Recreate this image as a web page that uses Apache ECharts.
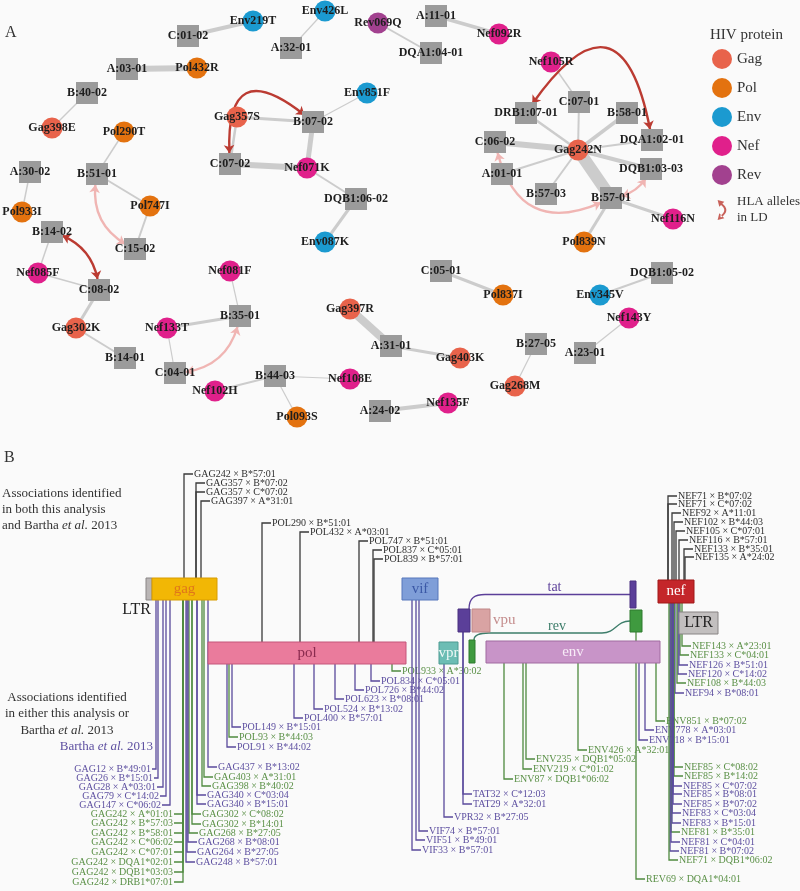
<!DOCTYPE html>
<html><head><meta charset="utf-8">
<script src="https://cdn.jsdelivr.net/npm/echarts@6/dist/echarts.min.js"></script>
<style>html,body{margin:0;padding:0;background:#fafafa}#c{width:800px;height:891px}</style>
</head><body><div id="c"></div><script>
const FONT = '"Liberation Serif", "DejaVu Serif", serif';

// ================= Panel A : association network =================
const proteins = ['Gag', 'Pol', 'Env', 'Nef', 'Rev'];
const proteinColors = ['#e8634b', '#e3720f', '#1b9ad0', '#e0208b', '#a2418f'];

const nodeNames = ['Env219T','C:01-02','Env426L','A:32-01','Rev069Q','DQA1:04-01','A:11-01','Nef092R',
  'A:03-01','Pol432R','B:40-02','Gag398E','Pol290T','B:51-01','A:30-02','Pol933I','Pol747I','C:15-02',
  'Gag357S','B:07-02','Env851F','C:07-02','Nef071K','DQB1:06-02','Env087K',
  'Nef105R','C:07-01','DRB1:07-01','B:58-01','DQA1:02-01','C:06-02','Gag242N','A:01-01','DQB1:03-03',
  'B:57-03','B:57-01','Nef116N','Pol839N',
  'B:14-02','Nef085F','C:08-02','Gag302K','B:14-01','Nef081F','B:35-01','Nef133T','C:04-01','Nef102H',
  'B:44-03','Nef108E','Pol093S','Gag397R','A:31-01','Gag403K','C:05-01','Pol837I','DQB1:05-02','Env345V',
  'Nef143Y','A:23-01','B:27-05','Gag268M','A:24-02','Nef135F'];
const nodeX = [253,188,325,291,378,431,436,499, 127,197,87,52,124,97,30,22,150,135,
  237,313,367,230,307,356,325, 551,579,526,627,652,495,578,502,651, 546,611,673,584,
  52,38,99,76,125,230,240,167,175,215, 275,350,297,350,391,460,441,503,662,600,
  629,585,536,515,380,448];
const nodeY = [21,36,11,48,23,53,16,34, 69,68,93,128,132,174,172,212,206,249,
  117,122,93,164,168,199,242, 62,102,113,113,140,142,150,174,169, 194,198,219,242,
  232,273,290,328,358,271,316,328,373,391, 376,379,417,309,346,358,271,295,273,295,
  318,353,344,386,411,403];

// source, target, association strength (edge width)
const edgeFrom = ['C:01-02','Env426L','Rev069Q','A:11-01','A:03-01','B:40-02','Pol290T','B:51-01','A:30-02','Pol747I',
  'Gag357S','Gag357S','B:07-02','C:07-02','B:07-02','Nef071K','DQB1:06-02','Nef105R',
  'Gag242N','Gag242N','Gag242N','Gag242N','Gag242N','Gag242N','Gag242N','Gag242N','Gag242N','B:57-01','B:57-01',
  'B:14-02','Nef085F','C:08-02','Gag302K','Nef081F','Nef133T','Nef133T','Nef102H','B:44-03','B:44-03',
  'Gag397R','A:31-01','C:05-01','DQB1:05-02','Nef143Y','B:27-05','A:24-02'];
const edgeTo = ['Env219T','A:32-01','DQA1:04-01','Nef092R','Pol432R','Gag398E','B:51-01','Pol747I','Pol933I','C:15-02',
  'B:07-02','C:07-02','Nef071K','Nef071K','Env851F','DQB1:06-02','Env087K','C:07-01',
  'DRB1:07-01','C:07-01','B:58-01','DQA1:02-01','C:06-02','A:01-01','B:57-03','DQB1:03-03','B:57-01','Nef116N','Pol839N',
  'Nef085F','C:08-02','Gag302K','B:14-01','B:35-01','B:35-01','C:04-01','B:44-03','Nef108E','Pol093S',
  'A:31-01','Gag403K','Pol837I','Env345V','A:23-01','Gag268M','Nef135F'];
const edgeWeight = [4,1.2,2,3.5,6,1.5,1.5,2,1.5,2,
  3,2.5,5,6,1.2,2,3,1.5,
  2.5,2,3.5,2,6,2,2,4,12,3,3,
  1.5,1.5,3,2,1.2,3,1.2,2,1.2,1.2,
  8,3,3,2,1.2,1.2,4];

// HLA alleles in linkage disequilibrium
const ldFrom = ['C:07-02','B:14-02','DRB1:07-01','B:51-01','B:35-01','C:06-02','DQB1:03-03'];
const ldTo = ['B:07-02','C:08-02','DQA1:02-01','C:15-02','C:04-01','B:57-01','B:57-01'];
const ldStrong = [true, true, true, false, false, false, false];
const ldBend = [1.2, 0.35, 1.25, -0.4, 0.4, -0.65, 0.3];

// ================= Panel B : genome map =================
const geneLabel = ['', 'gag', 'pol', 'vif', 'vpr', '', 'vpu', '', 'env', '', '', 'nef', 'LTR'];
const geneKey = ['LTR5', 'gag', 'pol', 'vif', 'vpr', 'tat1', 'vpu', 'rev1', 'env', 'tat2', 'rev2', 'nef', 'LTR3'];
const geneStart = [146, 152, 208, 402, 439, 458, 472, 469, 486, 630, 630, 658, 679];
const geneEnd = [152, 217, 406, 438, 458, 470, 490, 475, 660, 636, 642, 694, 718];
const geneTop = [578, 578, 642, 578, 642, 609, 609, 640, 641, 581, 610, 580, 612];
const geneBottom = [600, 600, 664, 600, 664, 632, 632, 663, 663, 608, 632, 603, 634];

// associations: [label, source ('both' | 'bartha' | 'this'), gene, genome position, label row]
const gagTop = [
  ['GAG242 × B*57:01','both','gag',184,474], ['GAG357 × B*07:02','both','gag',196,483],
  ['GAG357 × C*07:02','both','gag',196,492], ['GAG397 × A*31:01','both','gag',201,501]];
const polTop = [
  ['POL290 × B*51:01','both','pol',262,523], ['POL432 × A*03:01','both','pol',300,532],
  ['POL747 × B*51:01','both','pol',359,541], ['POL837 × C*05:01','both','pol',373,550],
  ['POL839 × B*57:01','both','pol',374,559]];
const nefTop = [
  ['NEF71 × B*07:02','both','nef',668,496], ['NEF71 × C*07:02','both','nef',668,504],
  ['NEF92 × A*11:01','both','nef',672,513], ['NEF102 × B*44:03','both','nef',674,522],
  ['NEF105 × C*07:01','both','nef',676,531], ['NEF116 × B*57:01','both','nef',679,540],
  ['NEF133 × B*35:01','both','nef',684,549], ['NEF135 × A*24:02','both','nef',685,557]];
const gagBottomLeft = [
  ['GAG12 × B*49:01','bartha','gag',156,769], ['GAG26 × B*15:01','bartha','gag',158,778],
  ['GAG28 × A*03:01','bartha','gag',163,787], ['GAG79 × C*14:02','bartha','gag',166,796],
  ['GAG147 × C*06:02','bartha','gag',170,805],
  ['GAG242 × A*01:01','this','gag',183,814], ['GAG242 × B*57:03','this','gag',183,823],
  ['GAG242 × B*58:01','this','gag',183,833], ['GAG242 × C*06:02','this','gag',183,842],
  ['GAG242 × C*07:01','this','gag',183,852], ['GAG242 × DQA1*02:01','this','gag',183,862],
  ['GAG242 × DQB1*03:03','this','gag',183,872], ['GAG242 × DRB1*07:01','this','gag',183,882]];
const gagLeftTick = [4,4,6,6,8,9,9,9,9,9,9,9,9];
const gagBottomRight = [
  ['GAG437 × B*13:02','bartha','gag',208,767], ['GAG403 × A*31:01','this','gag',204,777],
  ['GAG398 × B*40:02','this','gag',202,786], ['GAG340 × C*03:04','bartha','gag',197,795],
  ['GAG340 × B*15:01','bartha','gag',197,804], ['GAG302 × C*08:02','this','gag',192,814],
  ['GAG302 × B*14:01','this','gag',192,824], ['GAG268 × B*27:05','this','gag',189,833],
  ['GAG268 × B*08:01','bartha','gag',188,842], ['GAG264 × B*27:05','bartha','gag',187,852],
  ['GAG248 × B*57:01','bartha','gag',186,862]];
const polBottom = [
  ['POL91 × B*44:02','bartha','pol',227,747], ['POL93 × B*44:03','this','pol',229,737],
  ['POL149 × B*15:01','bartha','pol',232,727], ['POL400 × B*57:01','bartha','pol',294,718],
  ['POL524 × B*13:02','bartha','pol',314,709], ['POL623 × B*08:01','bartha','pol',335,699],
  ['POL726 × B*44:02','bartha','pol',355,690], ['POL834 × C*05:01','bartha','pol',371,681],
  ['POL933 × A*30:02','this','pol',392,671]];
const accessoryBottom = [
  ['VIF74 × B*57:01','bartha','vif',419,831], ['VIF51 × B*49:01','bartha','vif',416,840],
  ['VIF33 × B*57:01','bartha','vif',412,850], ['VPR32 × B*27:05','bartha','vpr',444,817],
  ['TAT32 × C*12:03','bartha','tat1',463,794], ['TAT29 × A*32:01','bartha','tat1',463,804],
  ['REV69 × DQA1*04:01','this','rev2',636,879]];
const envBottom = [
  ['ENV87 × DQB1*06:02','this','env',504,779], ['ENV219 × C*01:02','this','env',523,769],
  ['ENV235 × DQB1*05:02','this','env',526,759], ['ENV426 × A*32:01','this','env',578,750],
  ['ENV718 × B*15:01','bartha','env',639,740], ['ENV778 × A*03:01','bartha','env',645,730],
  ['ENV851 × B*07:02','this','env',656,721]];
const nefBottom = [
  ['NEF143 × A*23:01','this','nef',682,646], ['NEF133 × C*04:01','this','nef',680,655],
  ['NEF126 × B*51:01','bartha','nef',679,665], ['NEF120 × C*14:02','bartha','nef',678,674],
  ['NEF108 × B*44:03','this','nef',677,683], ['NEF94 × B*08:01','bartha','nef',675,693],
  ['NEF85 × C*08:02','this','nef',674,767], ['NEF85 × B*14:02','this','nef',674,776],
  ['NEF85 × C*07:02','bartha','nef',673,786], ['NEF85 × B*08:01','bartha','nef',673,794],
  ['NEF85 × B*07:02','bartha','nef',673,804], ['NEF83 × C*03:04','bartha','nef',672,813],
  ['NEF83 × B*15:01','bartha','nef',672,823], ['NEF81 × B*35:01','this','nef',671,832],
  ['NEF81 × C*04:01','bartha','nef',671,842], ['NEF81 × B*07:02','bartha','nef',670,851],
  ['NEF71 × DQB1*06:02','this','nef',669,860]];

// ================= styles =================
const geneStyle = {
  LTR5: {fill:'#b9b5b5', stroke:'#8a8686'},
  gag: {fill:'#f2b705', stroke:'#d89c00', text:'#e0761a'},
  pol: {fill:'#ea7b9c', stroke:'#c4577a', text:'#8a2a4e'},
  vif: {fill:'#7f9ed8', stroke:'#5677bb', text:'#3b58a6'},
  vpr: {fill:'#6cbdb4', stroke:'#4c9b92', text:'#eef8f6'},
  tat1: {fill:'#5b3f99', stroke:'#4a3080'},
  vpu: {fill:'#d9a3a3', stroke:'#c08888'},
  rev1: {fill:'#3f9a3f', stroke:'#2f7a2f'},
  env: {fill:'#c894c8', stroke:'#a06aa0', text:'#f7ebf7'},
  tat2: {fill:'#5b3f99', stroke:'#4a3080'},
  rev2: {fill:'#3f9a3f', stroke:'#2f7a2f'},
  nef: {fill:'#c4262a', stroke:'#a01818', text:'#ffffff'},
  LTR3: {fill:'#c2bfbf', stroke:'#888484', text:'#222222'}
};
const lineColor = {both:'#3a3a3a', bartha:'#5a4a9c', 'this':'#4f8a3f'};
const textColor = {both:'#2e2e2e', bartha:'#5d4fa0', 'this':'#5a9046'};

// ----- build network -----
const hlaColor = '#9b9b9b';
const nodes = nodeNames.map((n, i) => {
  const p = proteins.indexOf(n.slice(0, 3));
  return {
    name: n, value: [nodeX[i], nodeY[i]],
    category: p >= 0 ? p : 5,
    symbol: p >= 0 ? 'circle' : 'rect',
    symbolSize: p >= 0 ? 21 : 22
  };
});
const links = edgeFrom.map((s, i) => ({
  source: s, target: edgeTo[i],
  lineStyle: {width: edgeWeight[i], color: '#cccccc', opacity: 1, curveness: 0}
}));
ldFrom.forEach((s, i) => {
  links.push({
    source: s, target: ldTo[i], symbol: ['arrow', 'arrow'], symbolSize: [8, 8],
    lineStyle: {width: 2.4, color: ldStrong[i] ? '#bb3b32' : '#f0b5b3', opacity: 1, curveness: ldBend[i]}
  });
});

// ----- build genome association list -----
function collect(list, dir, side, ticks) {
  return list.map((a, i) => ({label: a[0], src: a[1], gene: geneKey.indexOf(a[2]), pos: a[3], row: a[4],
    dir: dir, side: side, tick: ticks ? ticks[i] : 9}));
}
const assoc = [].concat(
  collect(gagTop, 1, 'top'), collect(polTop, 1, 'top'), collect(nefTop, 1, 'top'),
  collect(gagBottomLeft, -1, 'bottom', gagLeftTick), collect(gagBottomRight, 1, 'bottom'),
  collect(polBottom, 1, 'bottom'), collect(accessoryBottom, 1, 'bottom'),
  collect(envBottom, 1, 'bottom'), collect(nefBottom, 1, 'bottom'));

function renderAssoc(params, api) {
  const a = assoc[params.dataIndex];
  const edgeY = a.side === 'top' ? geneTop[a.gene] : geneBottom[a.gene];
  const pA = api.coord([a.pos, edgeY]);
  const pB = api.coord([a.pos, a.row]);
  const pC = [pB[0] + a.dir * a.tick, pB[1]];
  return {type: 'group', children: [
    {type: 'polyline', shape: {points: [pA, pB, pC]}, style: {stroke: lineColor[a.src], lineWidth: 1.3, fill: null}},
    {type: 'text', x: pC[0] + a.dir * 1, y: pC[1], style: {text: a.label, fill: textColor[a.src],
      fontSize: 10, fontFamily: FONT, align: a.dir > 0 ? 'left' : 'right', verticalAlign: 'middle'}}
  ]};
}

function renderGene(params, api) {
  const i = params.dataIndex;
  const st = geneStyle[geneKey[i]];
  const p0 = api.coord([geneStart[i], geneTop[i]]);
  const p1 = api.coord([geneEnd[i], geneBottom[i]]);
  const ch = [{type: 'rect', shape: {x: p0[0], y: p0[1], width: p1[0] - p0[0], height: p1[1] - p0[1]},
    style: {fill: st.fill, stroke: st.stroke, lineWidth: 1}}];
  if (geneLabel[i] && geneKey[i] !== 'vpu') {
    ch.push({type: 'text', x: (p0[0] + p1[0]) / 2, y: (p0[1] + p1[1]) / 2,
      style: {text: geneLabel[i], fill: st.text, fontSize: geneKey[i] === 'LTR3' ? 16 : 15, fontFamily: FONT,
        align: 'center', verticalAlign: 'middle'}});
  }
  if (geneKey[i] === 'vpu') {
    ch.push({type: 'text', x: p1[0] + 3, y: (p0[1] + p1[1]) / 2,
      style: {text: 'vpu', fill: '#c48d8d', fontSize: 15, fontFamily: FONT, align: 'left', verticalAlign: 'middle'}});
  }
  if (geneKey[i] === 'LTR5') {
    ch.push({type: 'text', x: p1[0] - 1, y: p1[1] + 10,
      style: {text: 'LTR', fill: '#222', fontSize: 16, fontFamily: FONT, align: 'right', verticalAlign: 'middle'}});
  }
  return {type: 'group', children: ch};
}

// spliced exon connectors (tat, rev)
const spliceName = ['tat', 'rev'];
const spliceFromGene = ['tat1', 'rev1'];
const spliceToGene = ['tat2', 'rev2'];
const spliceColor = ['#5b3f99', '#3d7d6a'];
function renderSplice(params, api) {
  const k = params.dataIndex;
  const a = geneKey.indexOf(spliceFromGene[k]);
  const b = geneKey.indexOf(spliceToGene[k]);
  const s = api.coord([geneEnd[a] - 1, geneTop[a]]);
  const e = api.coord([geneStart[b], (geneTop[b] + geneBottom[b]) / 2]);
  let path;
  if (k === 0) {
    path = `M${s[0]} ${s[1]} C${s[0]} ${e[1] + 3} ${s[0] + 6} ${e[1]} ${s[0] + 16} ${e[1]} L${e[0]} ${e[1]}`;
  } else {
    const ly = e[1] + 12;
    path = `M${s[0]} ${s[1]} C${s[0]} ${ly + 2} ${s[0] + 5} ${ly} ${s[0] + 15} ${ly} L${e[0] - 28} ${ly} ` +
      `C${e[0] - 14} ${ly} ${e[0] - 14} ${e[1]} ${e[0]} ${e[1]}`;
  }
  const labelY = k === 0 ? e[1] - 7 : e[1] + 5;
  return {type: 'group', children: [
    {type: 'path', shape: {pathData: path}, style: {stroke: spliceColor[k], lineWidth: 1.3, fill: null}},
    {type: 'text', x: (s[0] + e[0]) / 2 + 5, y: labelY,
      style: {text: spliceName[k], fill: spliceColor[k], fontSize: 14, fontFamily: FONT, align: 'center', verticalAlign: 'middle'}}
  ]};
}

const ldIcon = 'path://M4 3 Q17 12 4 21 L3 19 Q13 12 3 5 Z M0 0 L8 2 L2 8 Z M0 24 L8 22 L2 16 Z';

const chart = echarts.init(document.getElementById('c'), null, {renderer: 'canvas'});
chart.setOption({
  backgroundColor: '#fafafa',
  animation: false,
  textStyle: {fontFamily: FONT},
  grid: {left: 0, right: 0, top: 0, bottom: 0},
  xAxis: {type: 'value', min: 0, max: 800, show: false},
  yAxis: {type: 'value', min: 0, max: 891, inverse: true, show: false},
  title: {text: 'HIV protein', left: 705, top: 23,
    textStyle: {fontSize: 15, fontWeight: 'normal', color: '#333', fontFamily: FONT}},
  legend: {
    orient: 'vertical', left: 707, top: 44, itemWidth: 20, itemHeight: 20, itemGap: 9,
    selectedMode: false, icon: 'circle',
    data: proteins.map(p => ({name: p})).concat([{name: 'HLA alleles in LD', icon: ldIcon,
      textStyle: {fontSize: 13, lineHeight: 16, color: '#333', fontFamily: FONT}}]),
    formatter: n => n === 'HLA alleles in LD' ? 'HLA alleles\nin LD' : n,
    textStyle: {fontSize: 15, color: '#333', fontFamily: FONT, lineHeight: 17}
  },
  graphic: [
    {type: 'text', left: 5, top: 25, style: {text: 'A', fontSize: 16, fontFamily: FONT, fill: '#333'}},
    {type: 'text', left: 4, top: 450, style: {text: 'B', fontSize: 16, fontFamily: FONT, fill: '#333'}},
    {type: 'text', left: 2, top: 486, style: {
      text: 'Associations identified\nin both this analysis\nand Bartha {i|et al.} 2013',
      fontSize: 13, lineHeight: 16, fontFamily: FONT, fill: '#333',
      rich: {i: {fontStyle: 'italic', fontSize: 13, fontFamily: FONT, fill: '#333'}}}},
    {type: 'text', x: 67, y: 689, style: {
      text: 'Associations identified\nin either this analysis or\nBartha {i|et al.} 2013', align: 'center',
      fontSize: 13, lineHeight: 16.5, fontFamily: FONT, fill: '#333',
      rich: {i: {fontStyle: 'italic', fontSize: 13, fontFamily: FONT, fill: '#333'}}}},
    {type: 'text', x: 153, y: 747, style: {
      text: 'Bartha {i|et al.} 2013', align: 'right', verticalAlign: 'middle',
      fontSize: 13, fontFamily: FONT, fill: '#5d4fa0',
      rich: {i: {fontStyle: 'italic', fontSize: 13, fontFamily: FONT, fill: '#5d4fa0'}}}}
  ],
  series: [
    {
      type: 'graph', name: 'network', coordinateSystem: 'cartesian2d', xAxisIndex: 0, yAxisIndex: 0,
      layout: 'none', roam: false, z: 5,
      categories: proteins.map((p, i) => ({name: p, itemStyle: {color: proteinColors[i]}}))
        .concat([{name: 'HLA', itemStyle: {color: hlaColor}}]),
      data: nodes, links: links,
      edgeSymbol: ['none', 'none'],
      label: {show: true, position: 'inside', fontFamily: FONT, fontWeight: 'bold', fontSize: 12, color: '#1e1e1e'},
      lineStyle: {color: '#cccccc', opacity: 1},
      emphasis: {disabled: true}
    },
    {type: 'scatter', name: 'HLA alleles in LD', data: [], itemStyle: {color: '#bb3b32'}},
    {
      type: 'custom', name: 'leaders', z: 2, renderItem: renderAssoc,
      data: assoc.map(a => [a.pos, a.row]), encode: {x: 0, y: 1}, silent: true
    },
    {
      type: 'custom', name: 'splice', z: 2, renderItem: renderSplice,
      data: spliceName.map((n, k) => [geneStart[geneKey.indexOf(spliceToGene[k])], geneTop[geneKey.indexOf(spliceToGene[k])]]),
      encode: {x: 0, y: 1}, silent: true
    },
    {
      type: 'custom', name: 'genes', z: 3, renderItem: renderGene,
      data: geneKey.map((g, i) => [geneStart[i], geneTop[i]]), encode: {x: 0, y: 1}, silent: true
    }
  ]
});
</script></body></html>
